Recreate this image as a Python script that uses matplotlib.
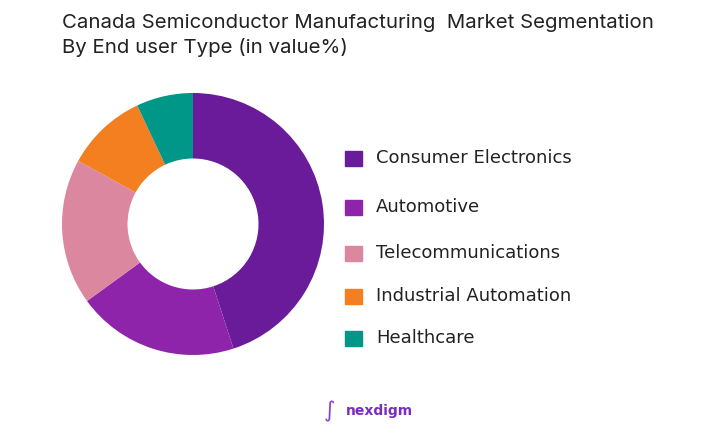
import matplotlib.pyplot as plt

# Данные диаграммы
categories = ["Consumer Electronics", "Automotive", "Telecommunications",
              "Industrial Automation", "Healthcare"]
values = [45, 20, 18, 10, 7]
colors = ["#6A1B9A", "#8E24AA", "#DB87A0", "#F47F20", "#009688"]

W, H = 715, 434
fig = plt.figure(figsize=(W / 100, H / 100), dpi=100)
fig.patch.set_facecolor("white")

# Заголовок
fig.text(62 / W, 1 - 28 / H, "Canada Semiconductor Manufacturing  Market Segmentation",
         fontsize=14.7, family="Inter", color="#222222", va="baseline")
fig.text(62 / W, 1 - 53 / H, "By End user Type (in value%)",
         fontsize=14.7, family="Inter", color="#222222", va="baseline")

# Кольцевая диаграмма
cx, cy, r = 193, 224, 131
ax = fig.add_axes([(cx - r) / W, (H - cy - r) / H, 2 * r / W, 2 * r / H])
ax.pie(values, colors=colors, startangle=90, counterclock=False,
       wedgeprops=dict(width=0.5, edgecolor="none"), radius=1)
ax.set_xlim(-1, 1)
ax.set_ylim(-1, 1)
ax.set_aspect("equal")
ax.axis("off")

# Легенда
ys = [158, 207, 253, 296, 338]
for name, col, y in zip(categories, colors, ys):
    fig.patches.append(plt.Rectangle((345 / W, 1 - (y + 8) / H), 17 / W, 15 / H,
                                     transform=fig.transFigure, color=col))
    fig.text(376 / W, 1 - y / H, name, fontsize=13, family="DejaVu Sans",
             color="#222222", va="center")

# Логотип
fig.text(330 / W, 1 - 411 / H, "\u222b", fontsize=16, color="#8E44C8",
         ha="center", va="center")
fig.text(379 / W, 1 - 411 / H, "nexdigm", fontsize=10, weight="bold",
         family="DejaVu Sans", color="#7B2CBF", ha="center", va="center")

fig.savefig("out.png", dpi=100, facecolor="white")
